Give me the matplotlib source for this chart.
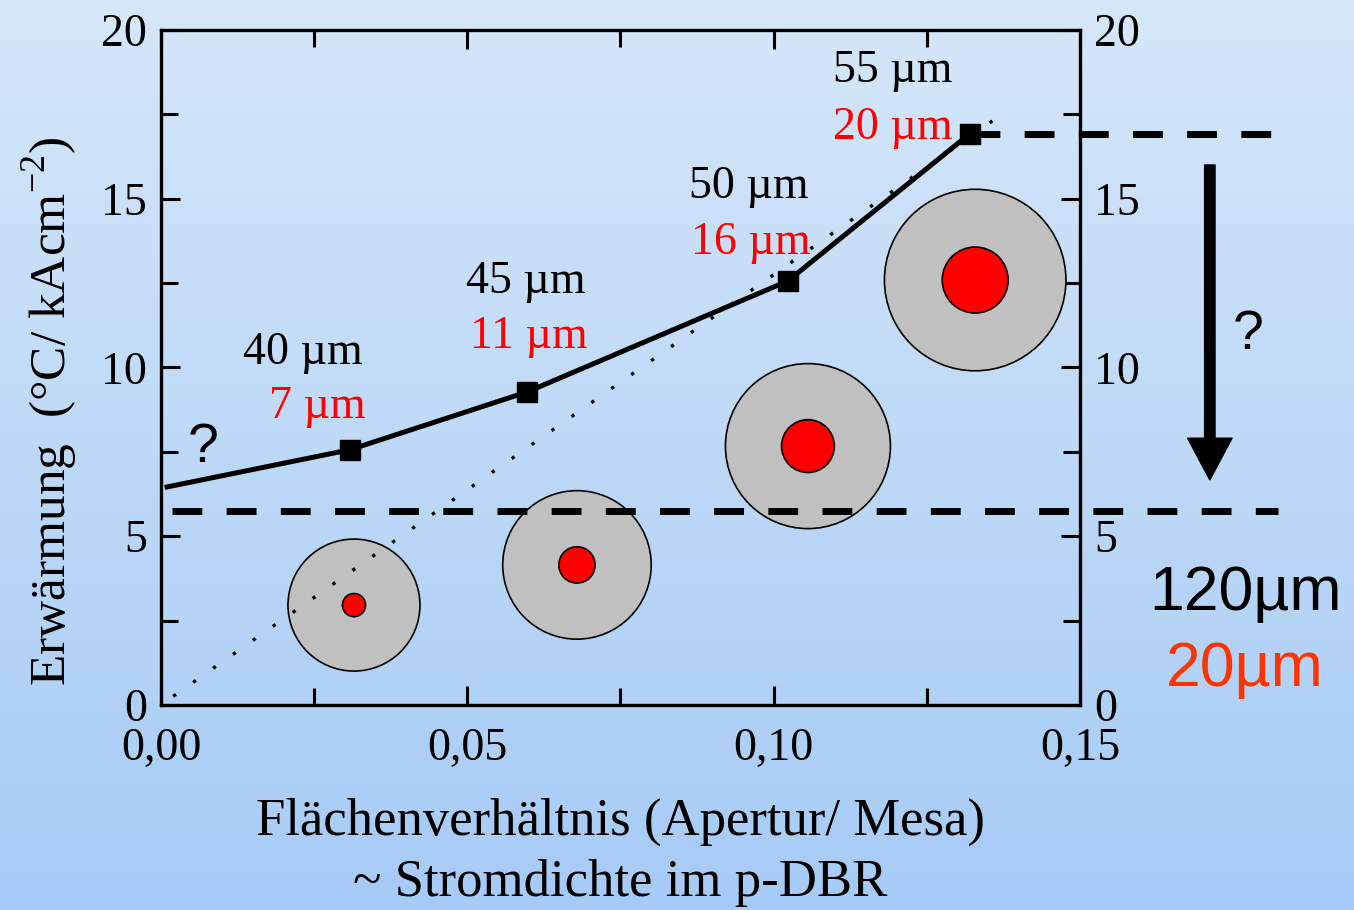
import numpy as np
import matplotlib
matplotlib.use("Agg")
import matplotlib.pyplot as plt
from matplotlib.ticker import MultipleLocator, FuncFormatter

# Messpunkte
ratio = [0.0308, 0.0597, 0.1023, 0.1320]
heating = [7.56, 9.27, 12.56, 16.92]
mesa = ["40 µm", "45 µm", "50 µm", "55 µm"]
aperture = ["7 µm", "11 µm", "16 µm", "20 µm"]
mesa_d = [40, 45, 50, 55]
aperture_d = [7, 11, 16, 20]

# extrapolierter Start der Kurve
start = (0.001, 6.46)
# lineare Abschätzung (gepunktet)
lin_x = [0.002, 0.136]
lin_slope = 127.5

# Kreise (Mesa/Apertur) - Position im Diagramm
circ_x = [0.0315, 0.0679, 0.1056, 0.1329]
circ_y = [2.96, 4.15, 7.67, 12.59]

# gestrichelte Linien
upper_level = 16.92
lower_level = 5.75

plt.rcParams['font.family'] = ['Liberation Serif', 'DejaVu Serif']

fig = plt.figure(figsize=(13.54, 9.10), dpi=100)

# Hintergrund mit Farbverlauf
bg = fig.add_axes([0, 0, 1, 1], zorder=-10)
grad = np.linspace(0, 1, 256).reshape(-1, 1)
top_c = np.array([214, 231, 249]) / 255
bot_c = np.array([166, 203, 246]) / 255
img = top_c + (bot_c - top_c) * grad[:, :, None] * np.ones((1, 2, 1))
bg.imshow(img, aspect="auto", extent=[0, 1, 0, 1])
bg.axis("off")

ax = fig.add_axes([0.1189, 0.2253, 0.6787, 0.7418])
ax.patch.set_alpha(0)
ax.set_xlim(0, 0.15)
ax.set_ylim(0, 20)

for s in ax.spines.values():
    s.set_linewidth(2.4)

ax.xaxis.set_major_locator(MultipleLocator(0.05))
ax.xaxis.set_minor_locator(MultipleLocator(0.025))
ax.yaxis.set_major_locator(MultipleLocator(5))
ax.yaxis.set_minor_locator(MultipleLocator(2.5))
ax.xaxis.set_major_formatter(FuncFormatter(lambda v, p: f"{v:.2f}".replace(".", ",")))
ax.tick_params(which="both", direction="in", top=True, right=True, labelright=True,
               width=2.2, labelsize=33, pad=10)
ax.tick_params(axis="x", which="major", pad=16)
ax.tick_params(which="major", length=14)
ax.tick_params(which="minor", length=12)

# Kreise
scale = 1.65 * 2 * 0.72
ax.scatter(circ_x, circ_y, s=[(d * scale) ** 2 for d in mesa_d], c="#c0c0c0",
           edgecolors="black", linewidths=1.2, zorder=2, clip_on=False)
ax.scatter(circ_x, circ_y, s=[(d * scale) ** 2 for d in aperture_d], c="red",
           edgecolors="black", linewidths=1.2, zorder=3, clip_on=False)

# gepunktete Gerade
lx = np.array(lin_x)
ax.plot(lx, lin_slope * lx, ls=(0, (1, 6.3)), color="black", lw=2.4, zorder=4)

# Messkurve
ax.plot([start[0]] + ratio, [start[1]] + heating, color="black", lw=3.6, zorder=5)
ax.plot(ratio, heating, ls="none", marker="s", ms=14, color="black", zorder=6)

# gestrichelte Niveaus (gehen über den Rand hinaus)
ax.plot([ratio[-1], 0.1823], [upper_level, upper_level], color="black", lw=5,
        dashes=(4.3, 3.5), clip_on=False, zorder=5)
ax.plot([0.0018, 0.1823], [lower_level, lower_level], color="black", lw=5,
        dashes=(4.3, 3.5), clip_on=False, zorder=5)

# Beschriftung der Punkte
label_pos = [(0.0232, 10.45, 8.85), (0.0595, 12.55, 10.9), (0.0960, 15.35, 13.7), (0.1195, 18.8, 17.1)]
red_x = [0.0255, 0.0600, 0.0962, 0.1195]
for (lx0, ly1, ly2), rx, m, a in zip(label_pos, red_x, mesa, aperture):
    ax.text(lx0, ly1, m, fontsize=33, ha="center", va="center")
    ax.text(rx, ly2, a, fontsize=33, ha="center", va="center", color="red")

ax.text(0.0068, 7.6, "?", fontsize=40, family=["Liberation Sans"], ha="center", va="center")

# Pfeil rechts
ax.annotate("", xy=(0.1712, 6.67), xytext=(0.1712, 16.0),
            arrowprops=dict(width=7.5, headwidth=32, headlength=30, color="black",
                            shrink=0),
            annotation_clip=False)
ax.text(0.1774, 10.95, "?", fontsize=40, family=["Liberation Sans"], ha="center", va="center")
ax.text(0.1771, 3.3, "120µm", fontsize=45, family=["Liberation Sans"], ha="center", va="center")
ax.text(0.1769, 1.05, "20µm", fontsize=45, family=["Liberation Sans"], ha="center", va="center",
        color="#ff3300")

fig.text(0.037, 0.548, "Erwärmung  (°C/ kAcm$^{\\mathregular{-2}}$)", fontsize=37,
         rotation=90, ha="center", va="center")

fig.text(0.458, 0.097, "Flächenverhältnis (Apertur/ Mesa)", fontsize=38, ha="center", va="center")
fig.text(0.458, 0.030, "~ Stromdichte im p-DBR", fontsize=38, ha="center", va="center")

fig.savefig("out.png", dpi=100)
